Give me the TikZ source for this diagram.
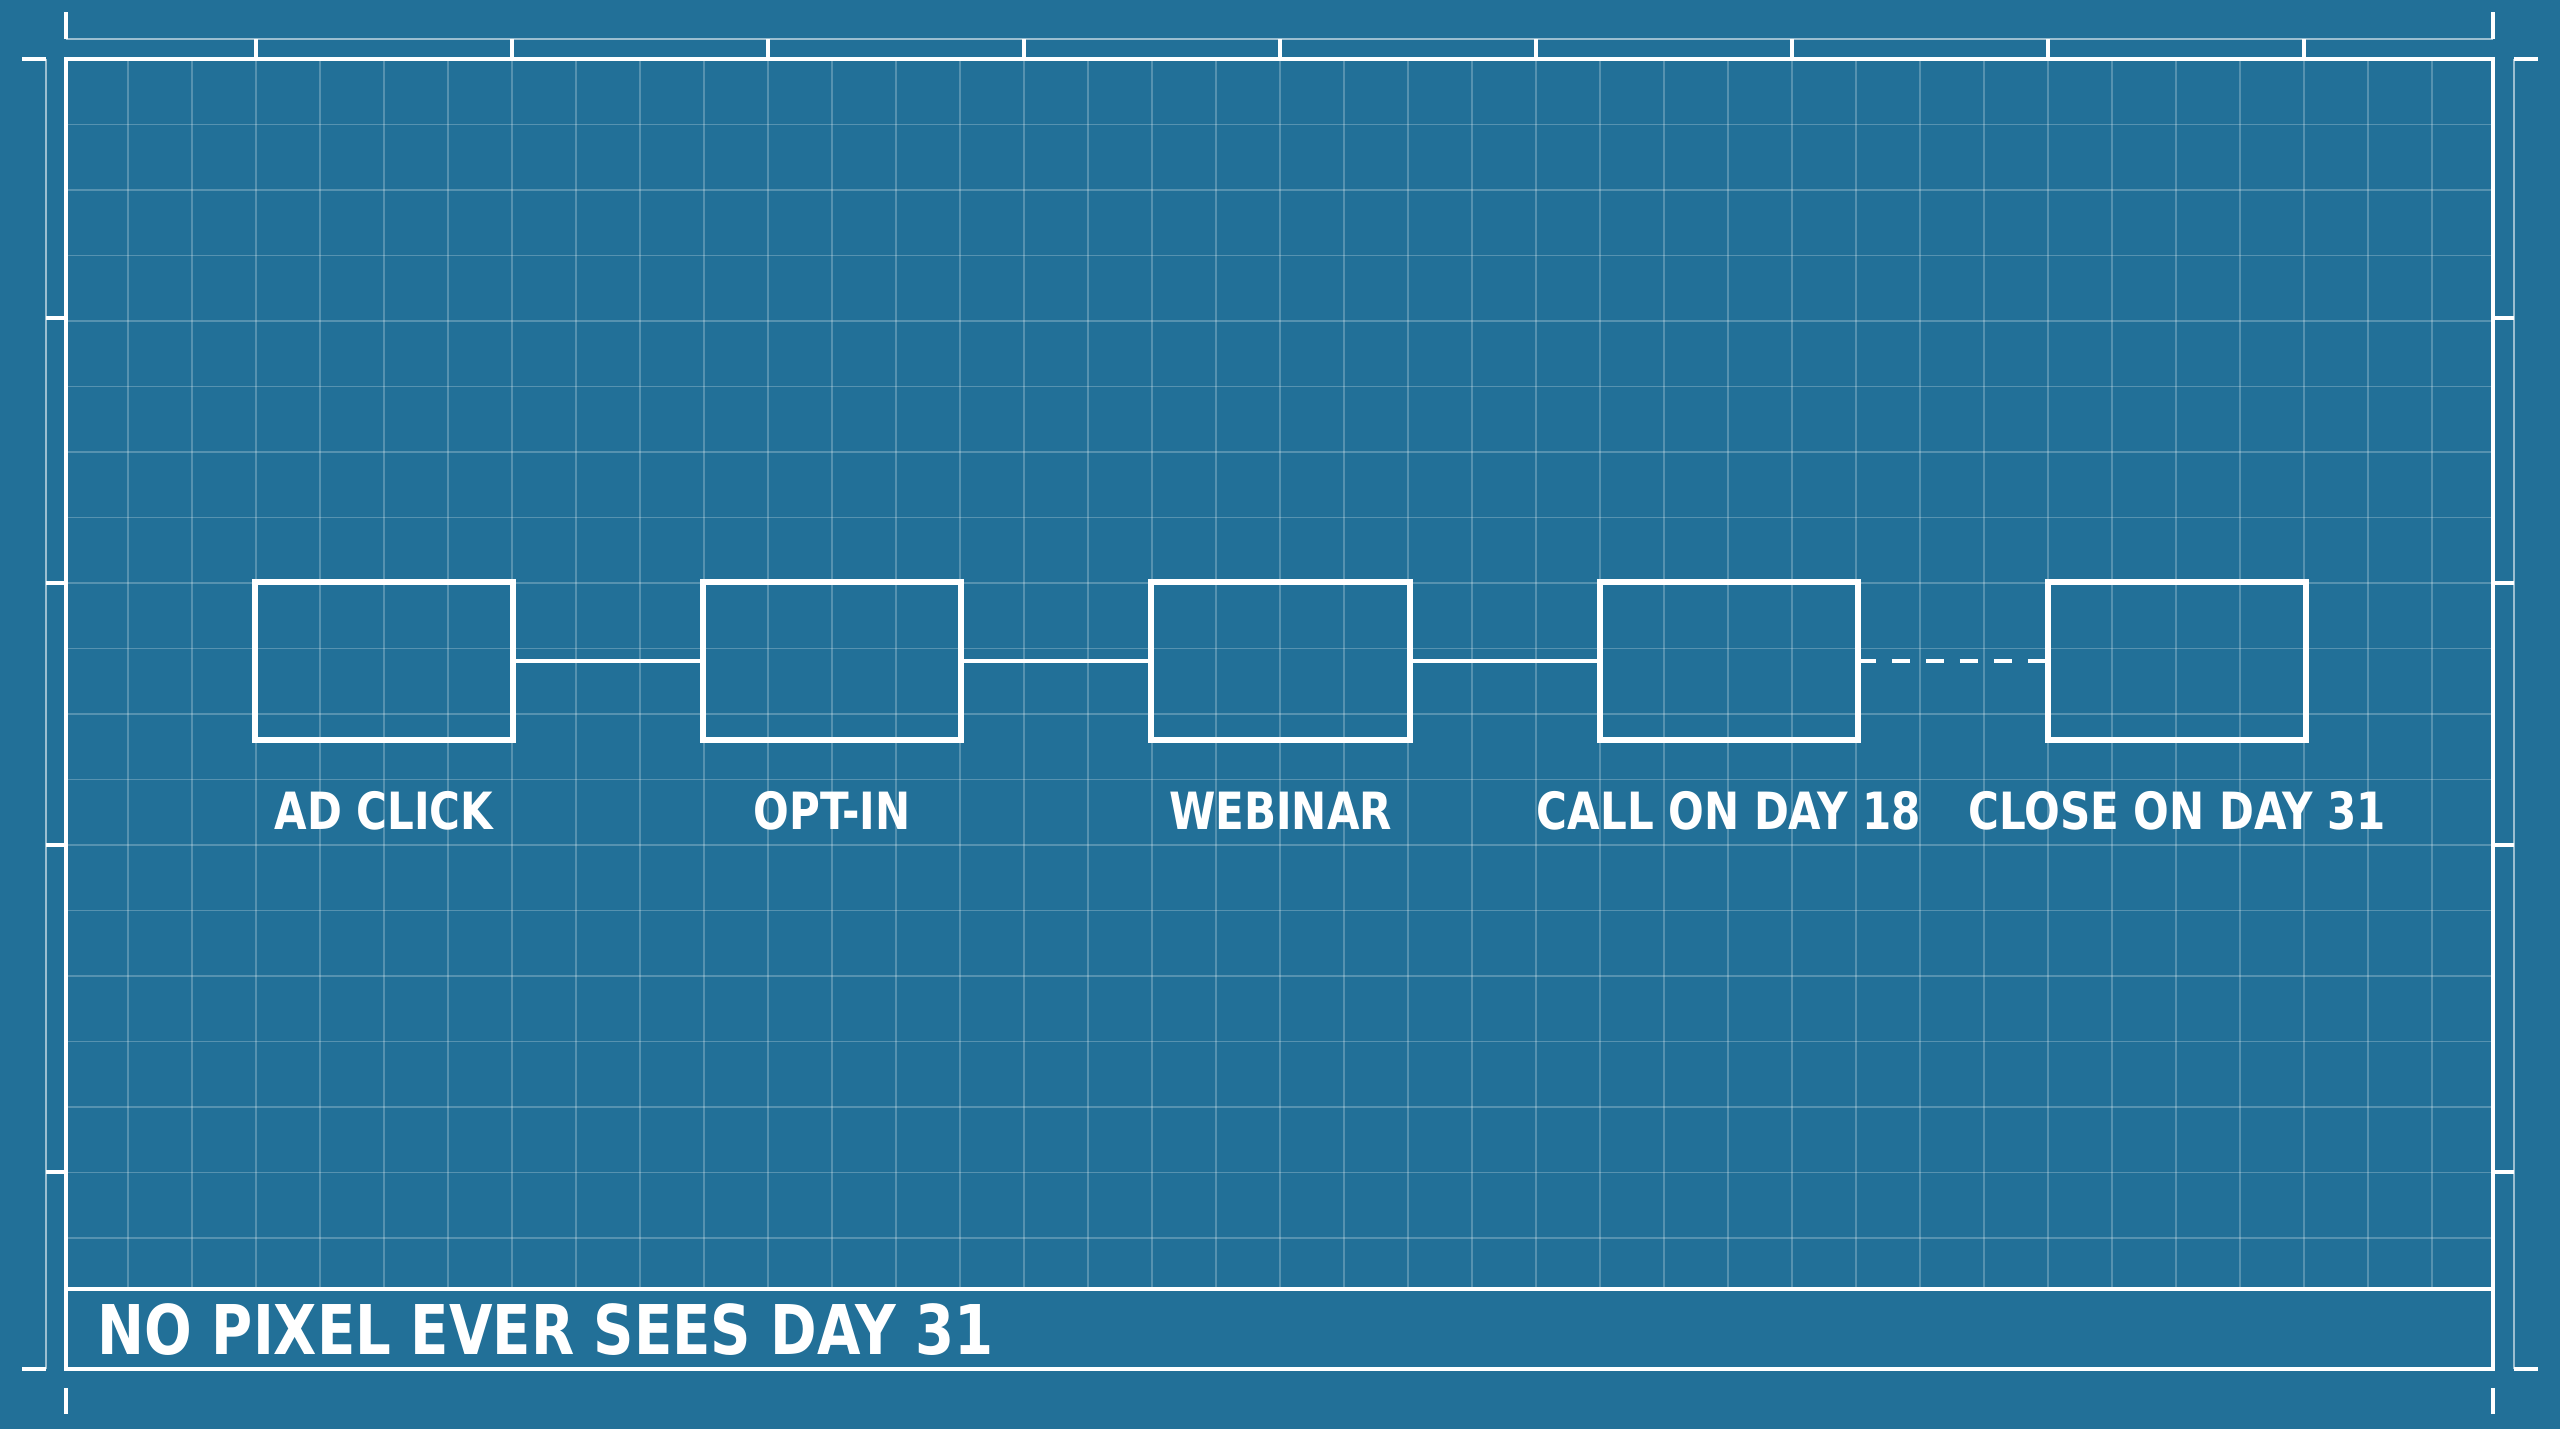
\documentclass[tikz,border=0pt]{standalone}
\usepackage{fontspec}
\setmainfont{DejaVu Sans Condensed}[FakeStretch=0.91]
\usetikzlibrary{positioning}
\definecolor{bpblue}{RGB}{34,112,152}

\begin{document}
\begin{tikzpicture}[x=0.01cm, y=-0.01cm,
    stage/.style={draw=white, line width=1.7pt, minimum width=2.58cm, minimum height=1.57cm, inner sep=0pt, outer sep=0pt},
    link/.style={white, line width=1.4pt},
    tag/.style={text=white, font=\bfseries\fontsize{14.6}{16}\selectfont, inner sep=0pt, anchor=base},
    gridline/.style={white, opacity=0.24, line width=0.45pt},
    rule/.style={white, line width=1pt},
    thinrule/.style={white, opacity=0.55, line width=0.6pt}]

    \useasboundingbox (0,0) rectangle (2560,1429);
    \fill[bpblue] (0,0) rectangle (2560,1429);

    % Grid
    \foreach \x in {128,192,...,2432}
        \draw[gridline] (\x,59) -- (\x,1289);
    \foreach \k in {1,...,18}
        \draw[gridline] (66,{59+65.5*\k}) -- (2493,{59+65.5*\k});

    % Frame and footer band
    \draw[rule] (66,59) rectangle (2493,1369);
    \draw[rule] (66,1289) -- (2493,1289);

    % Rulers
    \draw[thinrule] (66,39) -- (2493,39);
    \foreach \x in {256,512,...,2304}
        \draw[rule] (\x,39) -- (\x,59);
    \draw[rule] (66,12) -- (66,39);
    \draw[rule] (2493,12) -- (2493,39);

    \draw[thinrule] (46,59) -- (46,1369);
    \draw[thinrule] (2514,59) -- (2514,1369);
    \draw[rule] (22,59) -- (46,59);
    \draw[rule] (22,1369) -- (46,1369);
    \draw[rule] (2514,59) -- (2538,59);
    \draw[rule] (2514,1369) -- (2538,1369);
    \foreach \y in {318,583,845,1172} {
        \draw[rule] (46,\y) -- (66,\y);
        \draw[rule] (2493,\y) -- (2514,\y);
    }
    \draw[rule] (66,1388) -- (66,1414);
    \draw[rule] (2493,1388) -- (2493,1414);

    % Stages
    \node[stage] (click) at (384,661) {};
    \node[stage, right=1.9cm of click] (optin) {};
    \node[stage, right=1.9cm of optin] (webinar) {};
    \node[stage, right=1.9cm of webinar] (call) {};
    \node[stage, right=1.9cm of call] (close) {};

    \draw[link] (click) -- (optin);
    \draw[link] (optin) -- (webinar);
    \draw[link] (webinar) -- (call);
    \draw[link, dash pattern=on 0.18cm off 0.16cm] (call) -- (close);

    % Labels
    \node[tag] (clicktag) at ([yshift=-0.9cm]click.south) {AD CLICK};
    \node[tag] (optintag) at ([yshift=-0.9cm]optin.south) {OPT-IN};
    \node[tag] (webinartag) at ([yshift=-0.9cm]webinar.south) {WEBINAR};
    \node[tag] (calltag) at ([yshift=-0.9cm]call.south) {CALL ON DAY 18};
    \node[tag] (closetag) at ([yshift=-0.9cm]close.south) {CLOSE ON DAY 31};

    \node[text=white, font=\bfseries\fontsize{19.5}{22}\selectfont, inner sep=0pt, anchor=base west]
        (footer) at (97,1354) {NO PIXEL EVER SEES DAY 31};

\end{tikzpicture}
\end{document}
